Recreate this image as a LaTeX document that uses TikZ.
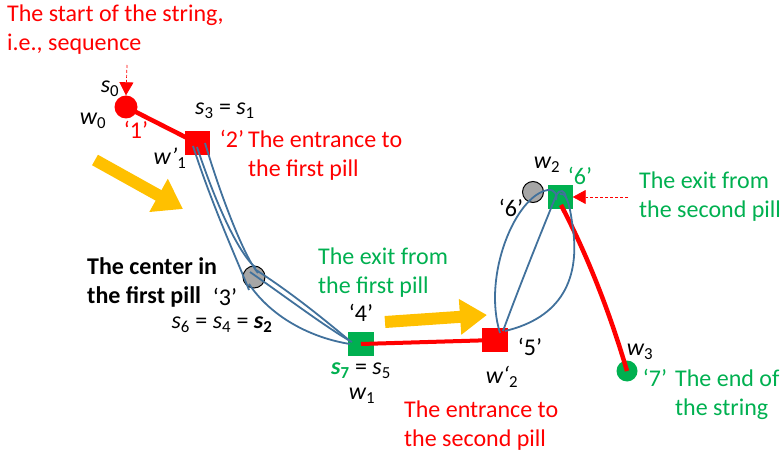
\documentclass[tikz,border=0pt]{standalone}
\usepackage{fontspec}
\setmainfont{Carlito}
\usetikzlibrary{arrows.meta}
\definecolor{cred}{RGB}{255,0,0}
\definecolor{cgreen}{RGB}{0,176,80}
\definecolor{cblue}{RGB}{65,113,156}
\definecolor{cyel}{RGB}{255,192,0}
\definecolor{cgray}{RGB}{166,166,166}
\newcommand{\vr}[2]{{\itshape #1}\textsubscript{#2}}
\begin{document}
\begin{tikzpicture}[x=1pt,y=-1pt,
  font=\fontsize{24}{29}\selectfont,
  dotc/.style={circle, inner sep=0pt, minimum size=23pt},
  sq/.style={rectangle, inner sep=0pt, minimum width=25pt, minimum height=24pt},
  lbl/.style={inner sep=0pt, align=left},
  pill/.style={draw=cblue, line width=1.8pt},
  strand/.style={draw=cred, line width=4.5pt},
  bigarrow/.style={draw=cyel, line width=12pt, -{Triangle[width=36pt,length=28pt]}},
  hint/.style={draw=cred, line width=0.7pt, densely dashed, -{Triangle[width=14pt,length=13pt,sep=0pt]}}
]
\useasboundingbox (0,0) rectangle (782,457);

% string shapes
\node[dotc, fill=cred] (w0) at (126,107) {};
\node[sq, fill=cred] (p2) at (197,143) {};
\node[dotc, fill=cgray, draw=black, line width=1pt, minimum size=22pt] (c3) at (254,277) {};
\node[sq, fill=cgreen, minimum width=26pt] (g4) at (361,344) {};
\node[sq, fill=cred, minimum width=26pt] (r5) at (495,340) {};
\node[dotc, fill=cgray, draw=black, line width=1pt, minimum size=21pt] (c6) at (533,192) {};
\node[sq, fill=cgreen] (g6) at (560,197) {};
\node[dotc, fill=cgreen, minimum size=21pt] (w3) at (627,371) {};

% red string
\draw[strand] (w0.center) -- (p2.center);
\draw[strand, line width=4pt] (g4.center) -- (r5.center);
\draw[strand] (g6.center) ++(1,8) coordinate (g6s) (g6s) .. controls (590,260) and (612,320) .. (w3.center);

% first pill
\draw[pill] (193,146) .. controls (212,205) and (238,262) .. (249,290);
\draw[pill] (197,147) .. controls (218,210) and (240,255) .. (256,268);
\draw[pill] (205,143) .. controls (222,200) and (245,258) .. (258,273);
\draw[pill] (250,272) .. controls (290,300) and (330,330) .. (352,342);
\draw[pill] (256,270) .. controls (295,295) and (332,326) .. (350,341);
\draw[pill] (249,284) .. controls (272,318) and (312,338) .. (350,344);

% second pill
\draw[pill] (500,333) .. controls (482,275) and (516,195) .. (548,190) .. controls (555,189) and (558,196) .. (556,200);
\draw[pill] (503,331) .. controls (518,290) and (542,230) .. (556,196) .. controls (560,188) and (565,190) .. (566,198);
\draw[pill] (505,331) .. controls (560,318) and (582,280) .. (572,222) .. controls (569,200) and (565,192) .. (560,194);

% yellow arrows
\coordinate (ya1s) at (95,160);
\coordinate (ya1e) at (183,209);
\draw[bigarrow] (ya1s) -- (ya1e);
\coordinate (ya2s) at (385,322);
\coordinate (ya2e) at (487,315);
\draw[bigarrow, -{Triangle[width=34pt,length=27pt]}] (ya2s) -- (ya2e);

% dashed pointers
\coordinate (h1s) at (127,65);
\draw[hint] (h1s) -- (w0.north);
\coordinate (h2s) at (628,197);
\draw[hint] (h2s) -- (g6.east);

% texts
\node[lbl, text=cred, anchor=west] (tstart) at (7,30) {The start of the string,\\i.e., sequence};
\node[lbl] (ls0) at (110,89) {\vr{s}{0}};
\node[lbl] (lw0) at (93,121) {\vr{w}{0}};
\node[lbl, text=cred] (l1) at (136,130) {‘1’};
\node[lbl] (ls31) at (225,111) {\vr{s}{3} = \vr{s}{1}};
\node[lbl, text=cred] (l2) at (232,139) {‘2’};
\node[lbl, text=cred, anchor=west] (tent1) at (248,156) {The entrance to\\the first pill};
\node[lbl] (lw1p) at (170,158) {{\itshape w’}\textsubscript{1}};
\node[lbl, anchor=west, font=\fontsize{24}{29}\selectfont\bfseries] (tcen) at (87,282) {The center in\\the first pill};
\node[lbl] (l3) at (225,297) {‘3’};
\node[lbl] (ls642) at (222,325) {\vr{s}{6} = \vr{s}{4} = {\bfseries\itshape s}\textsubscript{\bfseries 2}};
\node[lbl, text=cgreen, anchor=west] (texit1) at (318,273) {The exit from\\the first pill};
\node[lbl] (l4) at (361,313) {‘4’};
\node[lbl] (ls75) at (361,371) {\textcolor{cgreen}{{\bfseries\itshape s}\textsubscript{\bfseries 7}} = \vr{s}{5}};
\node[lbl] (lw1) at (362,396) {\vr{w}{1}};
\node[lbl] (l5) at (530,347) {‘5’};
\node[lbl] (lw2p) at (502,377) {{\itshape w‘}\textsubscript{2}};
\node[lbl, text=cred, anchor=west] (tent2) at (404,426) {The entrance to\\the second pill};
\node[lbl] (lw2) at (547,165) {\vr{w}{2}};
\node[lbl, text=cgreen] (l6g) at (580,176) {‘6’};
\node[lbl] (l6b) at (511,208) {‘6’};
\node[lbl, text=cgreen, anchor=west] (texit2) at (639,197) {The exit from\\the second pill};
\node[lbl] (lw3) at (640,352) {\vr{w}{3}};
\node[lbl, text=cgreen] (l7) at (655,378) {‘7’};
\node[lbl, text=cgreen, anchor=west] (tend) at (675,395) {The end of\\the string};
\end{tikzpicture}
\end{document}
